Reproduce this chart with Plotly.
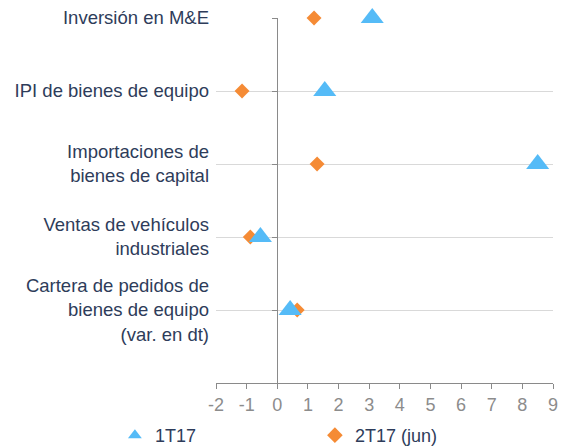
import plotly.graph_objects as go

categories = [
    "Inversión en M&E",
    "IPI de bienes de equipo",
    "Importaciones de<br>bienes de capital",
    "Ventas de vehículos<br>industriales",
    "Cartera de pedidos de<br>bienes de equipo<br>(var. en dt)",
]
cat_pos = [5, 4, 3, 2, 1]
s1_name = "1T17"
s1_values = [3.1, 1.55, 8.5, -0.55, 0.42]
s2_name = "2T17 (jun)"
s2_values = [1.2, -1.15, 1.3, -0.88, 0.65]
x_ticks = list(range(-2, 10))

text_color = "#2E3C5A"
tick_gray = "#8C8C8C"
axis_gray = "#8A8A8A"
blue = "#55BBF7"
orange = "#F58B35"
font_family = "Liberation Sans, Arial, sans-serif"

fig = go.Figure()
fig.add_trace(go.Scatter(
    x=s2_values, y=cat_pos, mode="markers", name=s2_name,
    marker=dict(symbol="diamond", size=11.5, color=orange),
    cliponaxis=False,
))
fig.add_trace(go.Scatter(
    x=s1_values, y=cat_pos, mode="markers", name=s1_name,
    marker=dict(symbol="triangle-up", size=20, color=blue),
    cliponaxis=False,
))
# invisible helper trace for the vertical axis at x=0
fig.add_trace(go.Scatter(
    x=s1_values, y=cat_pos, mode="markers", yaxis="y2",
    marker=dict(opacity=0), showlegend=False, hoverinfo="skip",
))

fig.update_layout(
    width=563, height=439,
    margin=dict(l=208, r=18, t=10, b=64, autoexpand=False),
    paper_bgcolor="white", plot_bgcolor="white",
    font=dict(family=font_family, size=18, color=text_color),
    xaxis=dict(
        range=[-2, 9], tickvals=x_ticks, ticktext=[str(v) for v in x_ticks],
        showgrid=False, zeroline=False, automargin=False,
        showline=True, linecolor=axis_gray, linewidth=1,
        ticks="outside", ticklen=5, tickcolor=axis_gray,
        tickfont=dict(color=tick_gray, size=18), domain=[0, 1],
        ticklabeloverflow="allow",
    ),
    yaxis=dict(
        range=[0, 5], tickvals=cat_pos, ticktext=categories,
        showgrid=True, gridcolor="#D9D9D9", gridwidth=1,
        zeroline=False, showline=False, ticks="", automargin=False,
        ticklabelstandoff=6, ticklabeloverflow="allow",
        tickfont=dict(color=text_color, size=18.5),
    ),
    yaxis2=dict(
        range=[0, 5], overlaying="y", anchor="free", position=2 / 11,
        side="left", tickvals=cat_pos, showticklabels=False,
        showgrid=False, zeroline=False, automargin=False,
        showline=True, linecolor=axis_gray, linewidth=1,
        ticks="outside", ticklen=5, tickcolor=axis_gray,
    ),
    legend=dict(
        orientation="h", x=-0.30, xanchor="left",
        y=-0.093, yanchor="top",
        traceorder="reversed",
        entrywidth=155, entrywidthmode="pixels",
        font=dict(size=18, color=text_color),
        itemsizing="constant", bgcolor="rgba(0,0,0,0)",
    ),
    showlegend=True,
)

fig.write_html("out.html")
